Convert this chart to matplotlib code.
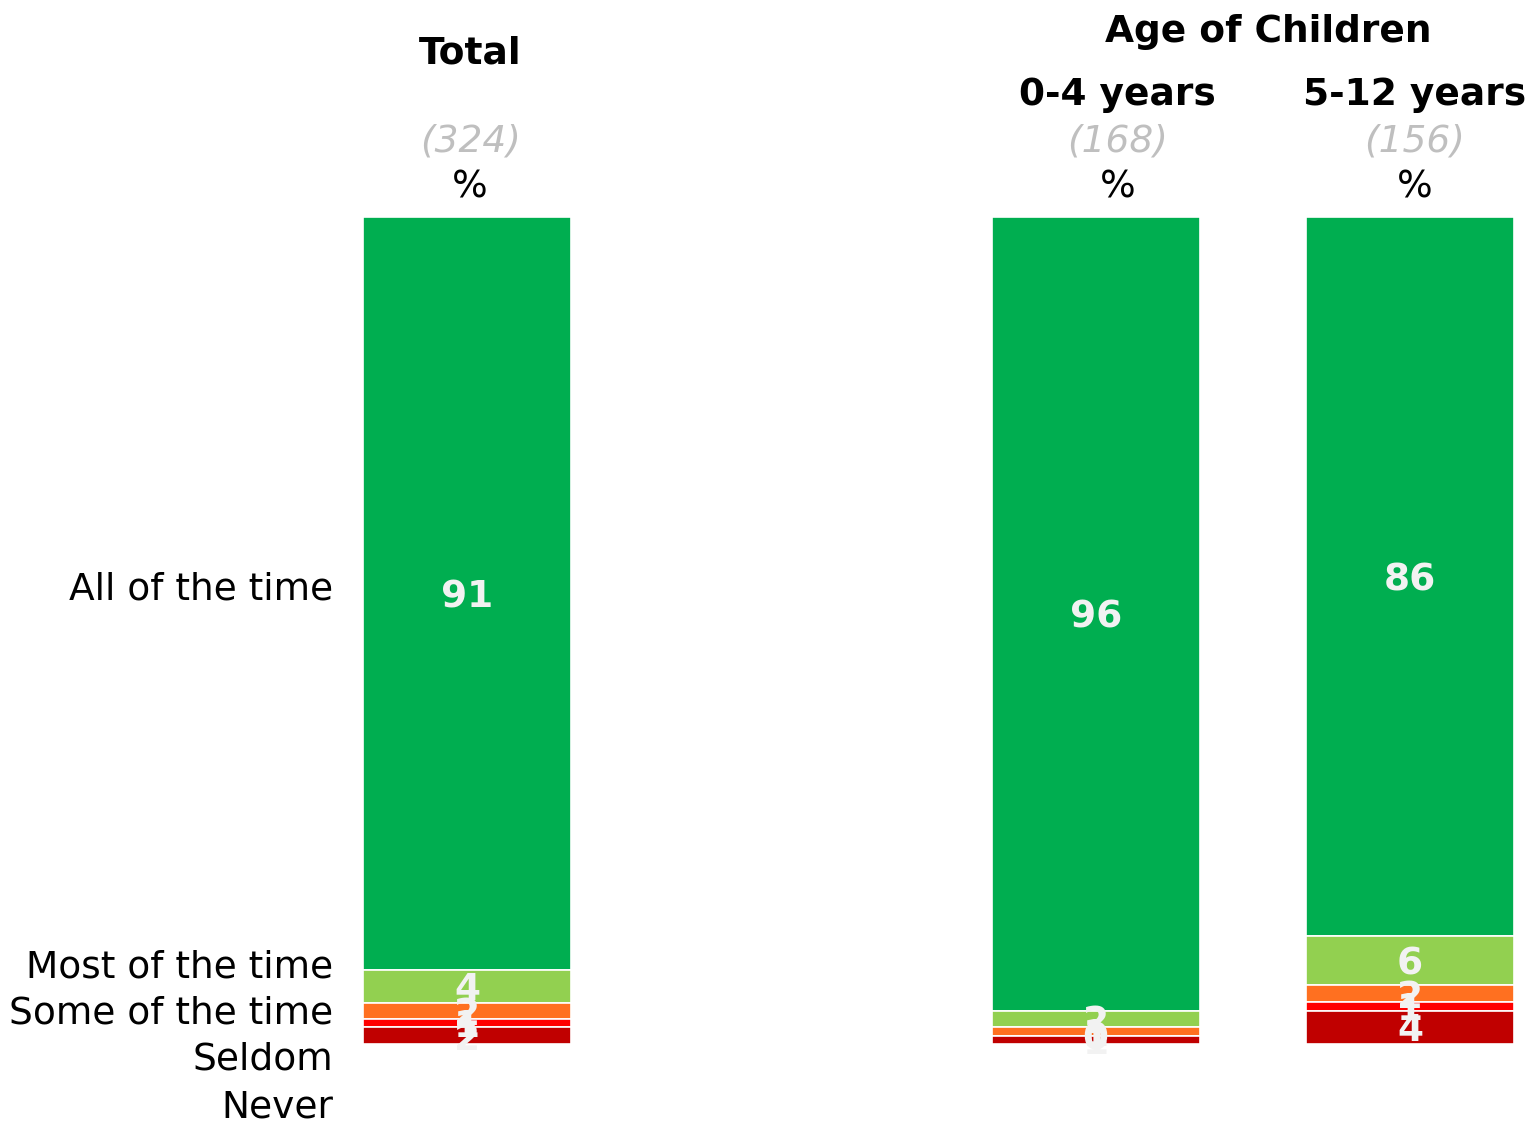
import numpy as np
import matplotlib
matplotlib.use("Agg")
import matplotlib.pyplot as plt

# --- data ---------------------------------------------------------------
groups = ["Total", "0-4 years", "5-12 years"]
bases = ["(324)", "(168)", "(156)"]
categories = ["All of the time", "Most of the time", "Some of the time", "Seldom", "Never"]
total = [91, 4, 2, 1, 2]
age_0_4 = [96, 2, 1, 0, 1]
age_5_12 = [86.9, 6, 2, 1.1, 4]
labels_total = ["91", "4", "2", "1", "2"]
labels_0_4 = ["96", "2", "1", "0", "1"]
labels_5_12 = ["86", "6", "2", "1", "4"]

colors = ["#00AE50", "#92D050", "#FF7020", "#FF0000", "#C00000"]

xpos = [0, 2, 3]
W, H = 1530, 1122
FS = 27

fig = plt.figure(figsize=(W / 100, H / 100), dpi=100)
plt.rcParams['font.family'] = ['DejaVu Sans']

# axes placed so that bars span 217..1044 px vertically
x0, x1 = -0.4, 3.37
unit = (1410 - 467) / 3.0
left_px = 467 - (0 - x0) * unit
right_px = 1410 + (x1 - 3) * unit
ax = fig.add_axes([left_px / W, 1 - 1044 / H, (right_px - left_px) / W, 827 / H])
ax.set_xlim(x0, x1)
ax.set_ylim(0, 100)
ax.axis("off")

series = [total, age_0_4, age_5_12]
labels = [labels_total, labels_0_4, labels_5_12]

for x, vals, labs in zip(xpos, series, labels):
    top = 100.0
    for v, lab, c in zip(vals, labs, colors):
        bottom = top - v
        ax.bar(x, v, bottom=bottom, width=0.662, color=c,
               edgecolor="white", linewidth=1.2)
        ax.text(x, bottom + v / 2, lab, ha="center", va="center_baseline",
                color="#F2F2F2", fontsize=FS, fontweight="bold")
        top = bottom

# column headers
head_off = [0.01, 0.07, 0.016]
for x, off, g, b in zip(xpos, head_off, groups, bases):
    gy = 1 - 54 / H if g == "Total" else 1 - 95 / H
    xf = (left_px + (x + off - x0) * unit) / W
    fig.text(xf, gy, g, ha="center", va="center", fontsize=FS, fontweight="bold")
    fig.text(xf, 1 - 141 / H, b, ha="center", va="center", fontsize=FS,
             style="italic", color="#BFBFBF")
    fig.text(xf, 1 - 188 / H, "%", ha="center", va="center", fontsize=FS)

fig.text(1268 / W, 1 - 32 / H, "Age of Children", ha="center", va="center",
         fontsize=FS, fontweight="bold")

# category labels on the left
cat_y = [589, 967, 1014, 1060, 1108]
for cat, yp in zip(categories, cat_y):
    fig.text(333 / W, 1 - yp / H, cat, ha="right", va="center", fontsize=FS)

fig.savefig("out.png", dpi=100)
